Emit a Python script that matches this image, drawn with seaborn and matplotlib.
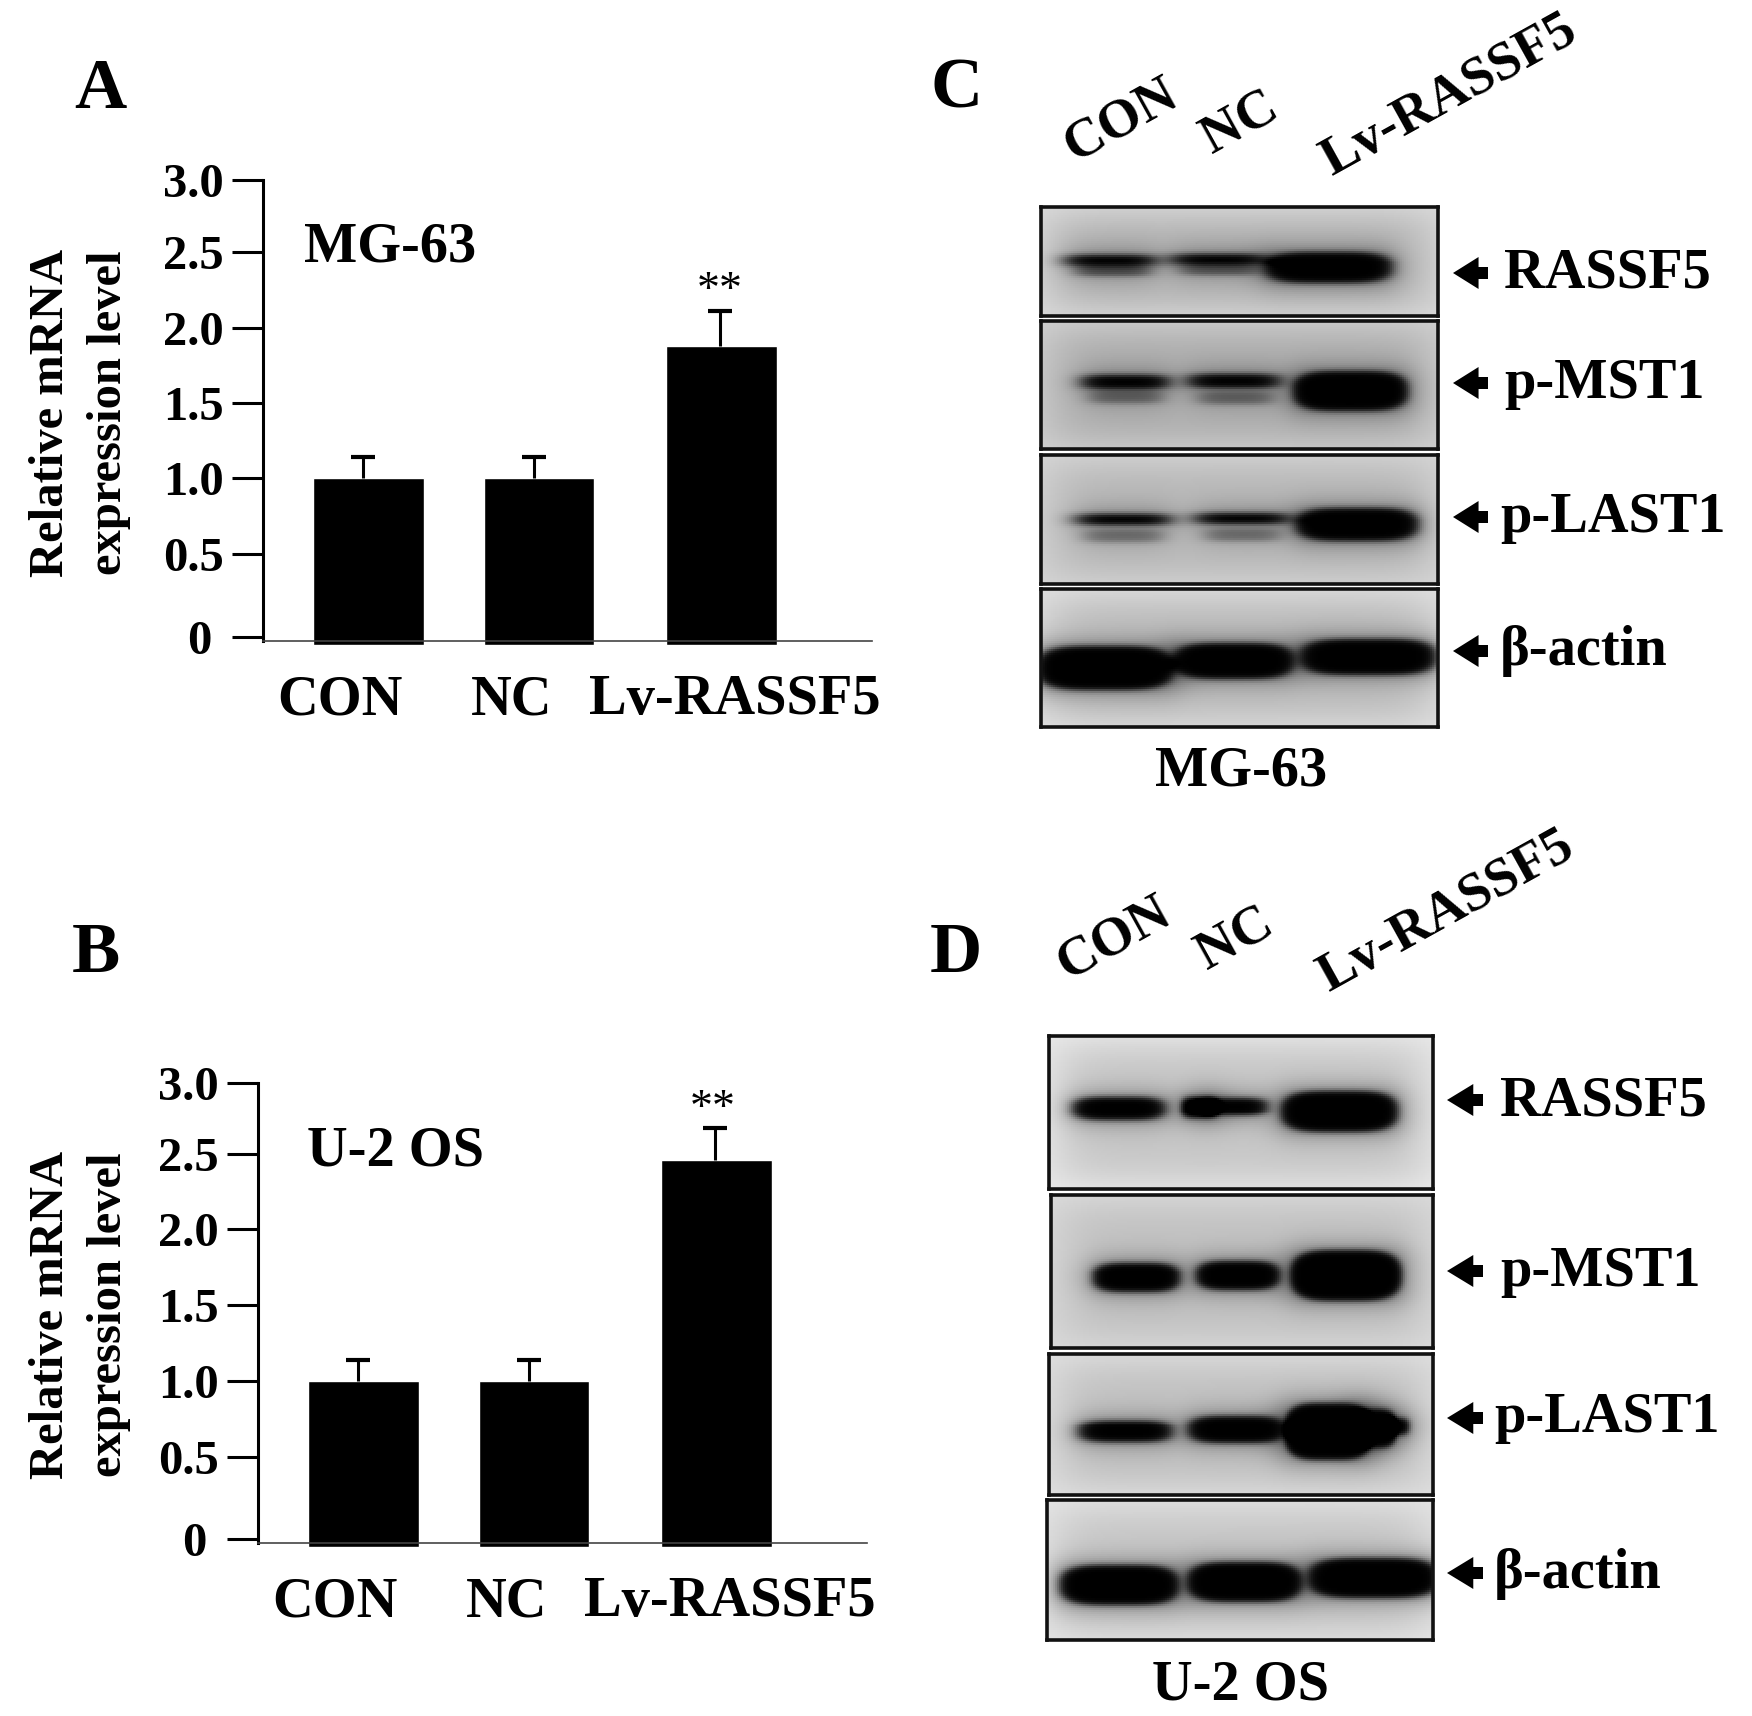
#!/usr/bin/env python3
# Relative mRNA bars (A, B) and western blots (C, D) for MG-63 and U-2 OS
import numpy as np
import matplotlib
matplotlib.use('Agg')
import matplotlib.pyplot as plt
from matplotlib.patches import Polygon
from matplotlib.transforms import Affine2D
import seaborn as sns

W, H = 1752, 1716

groups = ['CON', 'NC', 'Lv-RASSF5']
tick_values = [0, 0.5, 1.0, 1.5, 2.0, 2.5, 3.0]
tick_labels = ['0 ', '0.5', '1.0', '1.5', '2.0', '2.5', '3.0']

mg63_mean = [1.0, 1.0, 1.88]
mg63_err = [0.14, 0.14, 0.23]
u2os_mean = [1.0, 1.0, 2.46]
u2os_err = [0.14, 0.14, 0.22]

blot_names = ['RASSF5', 'p-MST1', 'p-LAST1', '\u03b2-actin']

c_rassf5 = [(1066, 1153, 260, 4, 1.0), (1076, 1148, 271, 3, 0.5),
            (1172, 1265, 259, 4, 1.0), (1181, 1257, 270, 3, 0.45),
            (1265, 1392, 267, 14, 1.0)]
c_mst1 = [(1082, 1167, 381, 5, 1.0), (1090, 1160, 396, 4, 0.38),
          (1188, 1279, 380, 5, 1.0), (1199, 1271, 397, 4, 0.38),
          (1293, 1408, 390, 18, 1.0)]
c_last1 = [(1077, 1168, 519, 4, 1.0), (1085, 1160, 536, 4, 0.34),
           (1196, 1288, 518, 4, 1.0), (1206, 1278, 535, 4, 0.34),
           (1296, 1418, 524, 15, 1.0)]
c_actin = [(1036, 1173, 667, 20, 1.0), (1172, 1294, 660, 16, 1.0),
           (1300, 1436, 656, 16, 1.0)]
d_rassf5 = [(1072, 1164, 1108, 10, 1.0), (1180, 1218, 1107, 9, 1.0), (1195, 1266, 1106, 7, 1.0),
            (1280, 1397, 1111, 19, 1.0)]
d_mst1 = [(1092, 1179, 1277, 13, 1.0), (1195, 1279, 1275, 13, 1.0),
          (1289, 1401, 1275, 24, 1.0)]
d_last1 = [(1078, 1171, 1431, 9, 1.0), (1187, 1285, 1429, 12, 1.0),
           (1283, 1372, 1431, 27, 1.0), (1345, 1396, 1428, 18, 1.0), (1375, 1408, 1426, 7, 1.0)]
d_actin = [(1059, 1178, 1584, 18, 1.0), (1186, 1301, 1581, 18, 1.0),
           (1307, 1438, 1577, 18, 1.0)]

sns.set_theme(style='white')
plt.rcParams['font.family'] = ['Liberation Serif']
plt.rcParams['font.weight'] = 'bold'

fig = plt.figure(figsize=(W / 100, H / 100), dpi=100)
# everything placed by hand goes through reference pixels, y down
px = Affine2D().scale(1 / W, -1 / H).translate(0, 1) + fig.transFigure


def new_axes(left, top, right, bottom):
    return fig.add_axes([left / W, 1 - bottom / H, (right - left) / W, (bottom - top) / H])


def label(x, y, s, size=40.6, ha='left', **kw):
    fig.text(x, y, s, transform=px, fontsize=size, ha=ha, va='baseline', color='black', **kw)


def bar_panel(means, errs, left, tick_px, name, name_xy, star_xy):
    # the ticks of the original are not evenly spaced, so the axis follows them
    vals = [-0.2] + tick_values
    pix = [tick_px[0] + 32] + tick_px
    neg = [-p for p in pix]
    fwd = lambda v: np.interp(v, vals, neg)
    inv = lambda p: np.interp(p, neg, vals)

    ax = new_axes(left, tick_px[-1], left + 609, tick_px[0] + 8)
    pos = [0, 1, 2.07]
    sns.barplot(x=pos, y=means, native_scale=True, width=0.65, color='black',
                saturation=1, errorbar=None, ax=ax)
    ax.set_yscale('function', functions=(fwd, inv))
    floor = -0.05
    for p, m in zip(ax.patches, means):
        p.set_y(floor)
        p.set_height(m - floor)
    # the error lines sit a little left of the bar centres in the original
    err_pos = [0 - 0.03, 1 - 0.03, 2.07 - 0.01]
    bars = ax.errorbar(err_pos, means, yerr=[[0, 0, 0], errs], fmt='none', ecolor='black',
                       elinewidth=2.2, capsize=8.3, capthick=3)
    bars[1][0].set_visible(False)
    ax.set_xlim(-0.619, 2.953)
    ax.set_ylim(floor, 3.0)

    ax.set_yticks(tick_values, tick_labels)
    ax.minorticks_off()
    ax.tick_params(axis='y', length=22, width=2.2, color='black', pad=6, labelsize=35,
                   labelcolor='black', left=True)
    ax.set_xticks([-0.167, 0.842, 2.15], groups)
    ax.tick_params(axis='x', length=0, pad=24, labelsize=40.6, labelcolor='black', bottom=False)

    sns.despine(ax=ax)
    ax.spines['left'].set_bounds(-0.025, 3.0)
    ax.spines['left'].set_linewidth(2.2)
    ax.spines['left'].set_color('black')
    ax.spines['bottom'].set_position(('data', -0.025))
    ax.spines['bottom'].set_linewidth(1.2)
    ax.spines['bottom'].set_color('#444444')
    ax.patch.set_alpha(0)

    ax.set_ylabel('Relative mRNA\nexpression level', fontsize=35, fontweight='bold', va='center',
                  linespacing=1.42, color='black')
    ax.yaxis.set_label_coords((80 - left) / 609, 0.5)

    label(name_xy[0], name_xy[1], name)
    fig.text(star_xy[0], star_xy[1], '**', transform=px, fontsize=33, ha='center',
             va='center', fontweight='normal', color='black')


def soft_box(t, a, b, s):
    return 0.5 * (np.tanh((t - a) / s) - np.tanh((t - b) / s))


def blot(frame, bands, light, grey):
    left, top, right, bottom = frame
    x, y = np.meshgrid(np.arange(left, right, 2.0), np.arange(top, bottom, 2.0))
    core = np.zeros_like(x)
    halo = np.zeros_like(x)
    for x0, x1, yc, hh, dark in bands:
        xc = (x0 + x1) / 2
        hw = (x1 - x0) / 2
        # rounded band with soft edges, thick in the middle and thin at the ends
        r = ((np.abs(x - xc) / hw) ** 4 + (np.abs(y - yc) / (hh + 2)) ** 2.6) ** (1 / 2.6)
        soft = min(0.5, 3 / (hh + 2))
        core += dark * 0.5 * (1 - np.tanh((r - 1) / soft))
        halo += dark * soft_box(x, x0 - 2, x1 + 2, 18) * soft_box(y, yc - hh - 2, yc + hh + 2, 15)
    inner = soft_box(x, left + 8, right - 8, 30) * soft_box(y, top + 8, bottom - 8, 20)
    back = light - (light - grey) * inner
    img = back * (1 - np.clip(core, 0, 1)) * (1 - 0.55 * np.clip(halo, 0, 1))

    ax = new_axes(left, top, right, bottom)
    sns.heatmap(img, ax=ax, cmap='gray', vmin=0, vmax=1, cbar=False,
                xticklabels=False, yticklabels=False, linewidths=0)
    for side in ax.spines.values():
        side.set_visible(True)
        side.set_color('#111111')
        side.set_linewidth(2.6)


def arrow(x0, x1, y):
    # small left-pointing arrow next to a blot
    neck = x1 - (x1 - x0) * 0.27
    pts = [(x0, y), (neck, y - 16), (neck, y - 6), (x1, y - 6), (x1, y + 6), (neck, y + 6), (neck, y + 16)]
    fig.add_artist(Polygon(pts, closed=True, transform=px, facecolor='black', edgecolor='none'))


bar_panel(mg63_mean, mg63_err, 263, [637, 554, 478, 403, 328, 252, 180], 'MG-63', (304, 262), (720, 292))
bar_panel(u2os_mean, u2os_err, 258, [1539, 1457, 1381, 1305, 1229, 1154, 1083], 'U-2 OS', (307, 1165), (713, 1110))

blot((1041, 207, 1438, 316), c_rassf5, 0.86, 0.70)
blot((1041, 321, 1438, 449), c_mst1, 0.82, 0.68)
blot((1041, 455, 1438, 584), c_last1, 0.84, 0.72)
blot((1041, 589, 1438, 727), c_actin, 0.88, 0.74)
blot((1049, 1036, 1433, 1189), d_rassf5, 0.92, 0.78)
blot((1051, 1195, 1433, 1348), d_mst1, 0.86, 0.76)
blot((1049, 1354, 1433, 1495), d_last1, 0.88, 0.76)
blot((1047, 1500, 1433, 1640), d_actin, 0.90, 0.78)

for name, ya, x, base in zip(blot_names, [273, 383, 517, 651], [1504, 1504, 1500, 1500], [287, 398, 532, 665]):
    arrow(1453, 1488, ya)
    label(x, base, name)
for name, ya, x, base in zip(blot_names, [1100, 1271, 1418, 1573], [1500, 1500, 1494, 1494], [1115, 1286, 1432, 1588]):
    arrow(1447, 1483, ya)
    label(x, base, name)

label(1241, 785, 'MG-63', ha='center')
label(1241, 1700, 'U-2 OS', ha='center')

for s, x, y in zip(groups, [1121, 1240, 1449], [121, 123, 96]):
    fig.text(x, y, s, transform=px, fontsize=39.5, rotation=29, ha='center', va='center',
             color='black')
for s, x, y in zip(groups, [1114, 1235, 1446], [939, 939, 912]):
    fig.text(x, y, s, transform=px, fontsize=39.5, rotation=29, ha='center', va='center',
             color='black')

label(74, 108, 'A', size=52)
label(72, 972, 'B', size=52)
label(930, 108, 'C', size=52)
label(930, 972, 'D', size=52)

fig.savefig('out.png', dpi=100, facecolor='white')
